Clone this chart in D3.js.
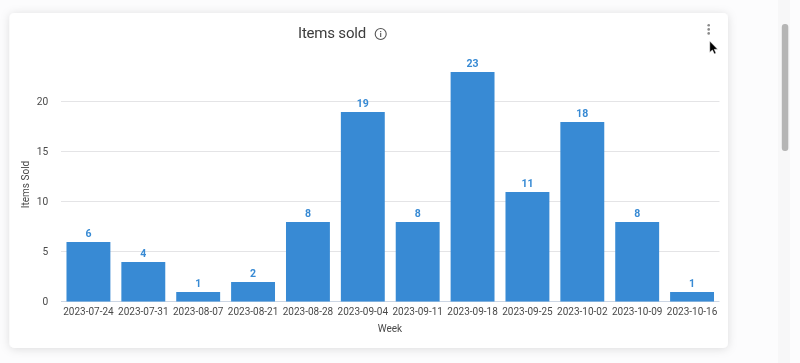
<!DOCTYPE html>
<html><head><meta charset="utf-8">
<script src="https://cdn.jsdelivr.net/npm/d3@7"></script>
<style>
html,body{margin:0;padding:0;background:#fcfcfd;overflow:hidden}
text{font-family:Roboto,sans-serif}
</style></head><body>
<svg id="c" width="800" height="363"></svg>
<script>
const weeks=["2023-07-24","2023-07-31","2023-08-07","2023-08-21","2023-08-28","2023-09-04","2023-09-11","2023-09-18","2023-09-25","2023-10-02","2023-10-09","2023-10-16"];
const itemsSold=[6,4,1,2,8,19,8,23,11,18,8,1];
const yTicks=[0,5,10,15,20];
const chartTitle="Items sold", xTitle="Week", yTitle="Items Sold";

const svg=d3.select("#c");
const defs=svg.append("defs");
const f=defs.append("filter").attr("id","sh").attr("x","-5%").attr("y","-10%").attr("width","110%").attr("height","120%");
f.append("feDropShadow").attr("dx",0).attr("dy",1).attr("stdDeviation",5).attr("flood-color","#000").attr("flood-opacity",0.13);
const soft=defs.append("filter").attr("id","soft");
soft.append("feGaussianBlur").attr("stdDeviation",0.3);

// page furniture
svg.append("rect").attr("x",778).attr("y",0).attr("width",12).attr("height",363).attr("fill","#f7f7f8");
svg.append("rect").attr("x",781.8).attr("y",24).attr("width",6.5).attr("height",127).attr("rx",3).attr("fill","#b5b5b5");
svg.append("rect").attr("x",9.5).attr("y",13).attr("width",718.5).attr("height",335).attr("rx",5).attr("fill","#fff").attr("filter","url(#sh)");

const x=d3.scaleBand().domain(weeks).range([61,719.5]).paddingInner(0.2).paddingOuter(0.1);
const y=d3.scaleLinear().domain([0,20]).range([301.5,101.5]);

const root=svg.append("g").attr("filter","url(#soft)");

// y axis + grid
const ya=root.append("g").attr("transform","translate(61,0)")
  .call(d3.axisLeft(y).tickValues(yTicks).tickSize(0).tickPadding(12.7));
ya.select(".domain").remove();
ya.selectAll("text").attr("font-size",10.2).attr("fill","#4a4a4a").style("font-family","Roboto,sans-serif");
root.append("g").selectAll("line").data(yTicks).join("line")
  .attr("x1",61).attr("x2",719.5).attr("y1",d=>y(d)).attr("y2",d=>y(d))
  .attr("stroke",d=>d===0?"#ccd6e4":"#e4e4e6").attr("stroke-width",1);

// bars
root.append("g").selectAll("rect").data(itemsSold).join("rect")
  .attr("x",(d,i)=>x(weeks[i])).attr("width",x.bandwidth())
  .attr("y",d=>y(d)+0.5).attr("height",d=>y(0)-y(d)-0.5).attr("fill","#378ad4");

// value labels
root.append("g").selectAll("text").data(itemsSold).join("text")
  .attr("x",(d,i)=>x(weeks[i])+x.bandwidth()/2).attr("y",d=>y(d)-4.5)
  .attr("text-anchor","middle").attr("font-size",10.5).attr("font-weight",700)
  .attr("fill","#378ad4").text(d=>d);

// x axis
const xa=root.append("g").attr("transform","translate(0,301.5)")
  .call(d3.axisBottom(x).tickSize(0).tickPadding(6));
xa.select(".domain").remove();
xa.selectAll("text").attr("font-size",10).attr("fill","#4a4a4a").style("font-family","Roboto,sans-serif");

root.append("text").attr("x",390).attr("y",332).attr("text-anchor","middle").attr("font-size",10).attr("fill","#4a4a4a").text(xTitle);
root.append("text").attr("transform","translate(28.5,184.5) rotate(-90)").attr("text-anchor","middle").attr("font-size",10).attr("fill","#4a4a4a").text(yTitle);
root.append("text").attr("x",298).attr("y",38).attr("font-size",15).attr("letter-spacing",-0.2).attr("fill","#3c3c3c").text(chartTitle);

// info icon
const info=root.append("g").attr("transform","translate(380.7,34)");
info.append("circle").attr("r",5.5).attr("fill","none").attr("stroke","#555").attr("stroke-width",1.1);
info.append("rect").attr("x",-0.55).attr("y",-1).attr("width",1.1).attr("height",4).attr("fill","#555");
info.append("rect").attr("x",-0.55).attr("y",-3).attr("width",1.1).attr("height",1.2).attr("fill","#555");

// kebab menu
root.append("g").selectAll("circle").data([25.3,29.4,33.4]).join("circle")
  .attr("cx",708.7).attr("cy",d=>d).attr("r",1.3).attr("fill","#8a8a8a");

// cursor
svg.append("path").attr("transform","translate(709.7,41)")
  .attr("d","M0,0 L0,11.5 L2.7,9 L4.6,13 L6.4,12.2 L4.6,8.4 L8,8.2 Z")
  .attr("fill","#000").attr("stroke","#fff").attr("stroke-width",0.6);
</script>
</body></html>
